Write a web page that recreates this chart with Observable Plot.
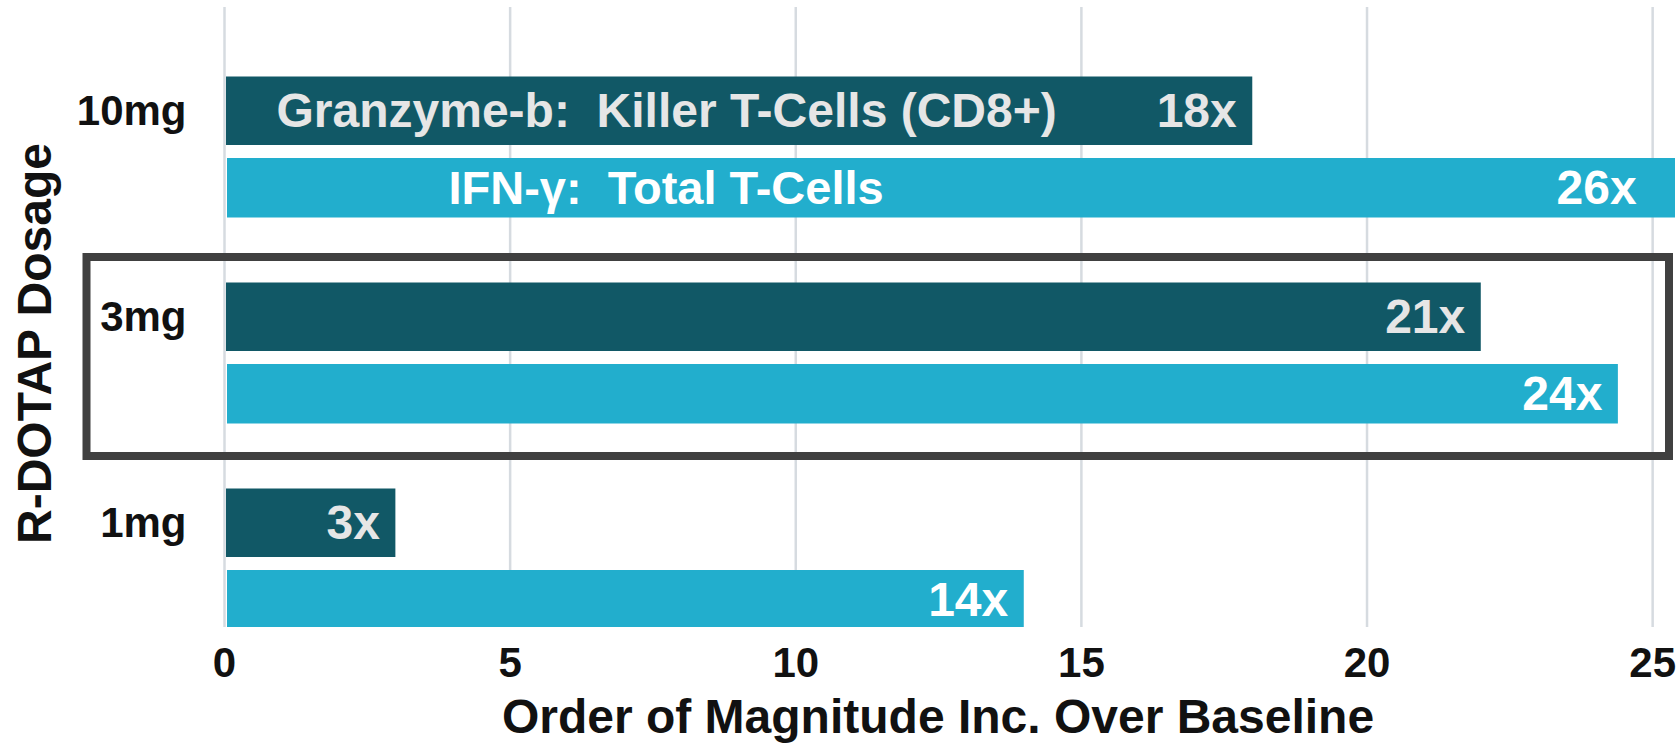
<!DOCTYPE html>
<html>
<head>
<meta charset="utf-8">
<script src="https://cdn.jsdelivr.net/npm/d3@7"></script>
<script src="https://cdn.jsdelivr.net/npm/@observablehq/plot@0.6"></script>
<style>
  html, body { margin: 0; padding: 0; background: #fff; }
  svg text { white-space: pre; }
</style>
</head>
<body>
<div id="chart"></div>
<script>
const doses = ["10mg", "3mg", "1mg"];
const granzyme = [18, 22, 3];
const ifn = [26, 24.4, 14];
const granzymeLabels = ["18x", "21x", "3x"];
const ifnLabels = ["26x", "24x", "14x"];
const seriesNames = ["Granzyme-b:  Killer T-Cells (CD8+)", "IFN-γ:  Total T-Cells"];
const xTicks = [0, 5, 10, 15, 20, 25];
const highlighted = ["3mg"];
const xTitle = "Order of Magnitude Inc. Over Baseline";
const yTitle = "R-DOTAP Dosage";

const gRows = doses.map((d, i) => ({dose: d, value: granzyme[i], label: granzymeLabels[i]}));
const iRows = doses.map((d, i) => ({dose: d, value: ifn[i], label: ifnLabels[i]}));
const font = "'Liberation Sans', Arial, sans-serif";

const chart = Plot.plot({
  width: 1680,
  height: 749,
  marginLeft: 224,
  marginRight: 5,
  marginTop: 7,
  marginBottom: 122,
  style: {fontFamily: font, background: "#fff"},
  x: {domain: [0, 25.4]},
  y: {domain: doses, range: [44.2, 662.2], padding: 0},
  marks: [
    Plot.gridX(xTicks, {stroke: "#d6dbe0", strokeOpacity: 1, strokeWidth: 2.5}),
    Plot.barX(gRows, {y: "dose", x: "value", fill: "#115866", insetTop: 32.5, insetBottom: 105, insetLeft: 2, clip: true}),
    Plot.barX(iRows, {y: "dose", x: "value", fill: "#22aecd", insetTop: 114, insetBottom: 32.5, insetLeft: 3, clip: true}),
    Plot.text(gRows, {y: "dose", x: d => Math.min(d.value, 25), text: "label", textAnchor: "end", dx: -16, dy: -36,
      fill: "#e6e6e6", fontSize: 48, fontWeight: "bold"}),
    Plot.text(iRows, {y: "dose", x: d => Math.min(d.value, 25), text: "label", textAnchor: "end", dx: -16, dy: 41,
      fill: "#ffffff", fontSize: 48, fontWeight: "bold"}),
    Plot.text([{dose: doses[0], name: seriesNames[0]}], {y: "dose", frameAnchor: "left", text: "name", textAnchor: "start",
      dx: 52, dy: -36, fill: "#e6e6e6", fontSize: 48, fontWeight: "bold"}),
    Plot.text([{dose: doses[0], name: seriesNames[1]}], {y: "dose", frameAnchor: "left", text: "name", textAnchor: "start",
      dx: 224, dy: 41, fill: "#ffffff", fontSize: 47, fontWeight: "bold"}),
    Plot.cell(highlighted, {y: d => d, fill: "none", stroke: "#404040", strokeWidth: 8,
      insetLeft: -137.5, insetRight: 6, insetTop: 7, insetBottom: 0}),
    Plot.axisX({ticks: xTicks, tickSize: 0, tickPadding: 20, fontSize: 42, fontWeight: "bold", color: "#111", label: null}),
    Plot.axisY({tickSize: 0, tickPadding: 38, dy: -36, fontSize: 42, fontWeight: "bold", color: "#111", label: null}),
    Plot.text([xTitle], {frameAnchor: "bottom", textAnchor: "middle", lineAnchor: "middle", dy: 90, dx: -12,
      fontSize: 48, fontWeight: "bold", fill: "#111"}),
    Plot.text([yTitle], {frameAnchor: "left", textAnchor: "middle", lineAnchor: "middle", rotate: -90, dx: -189, dy: 26,
      fontSize: 48, fontWeight: "bold", fill: "#111"})
  ]
});
document.getElementById("chart").appendChild(chart);
</script>
</body>
</html>
